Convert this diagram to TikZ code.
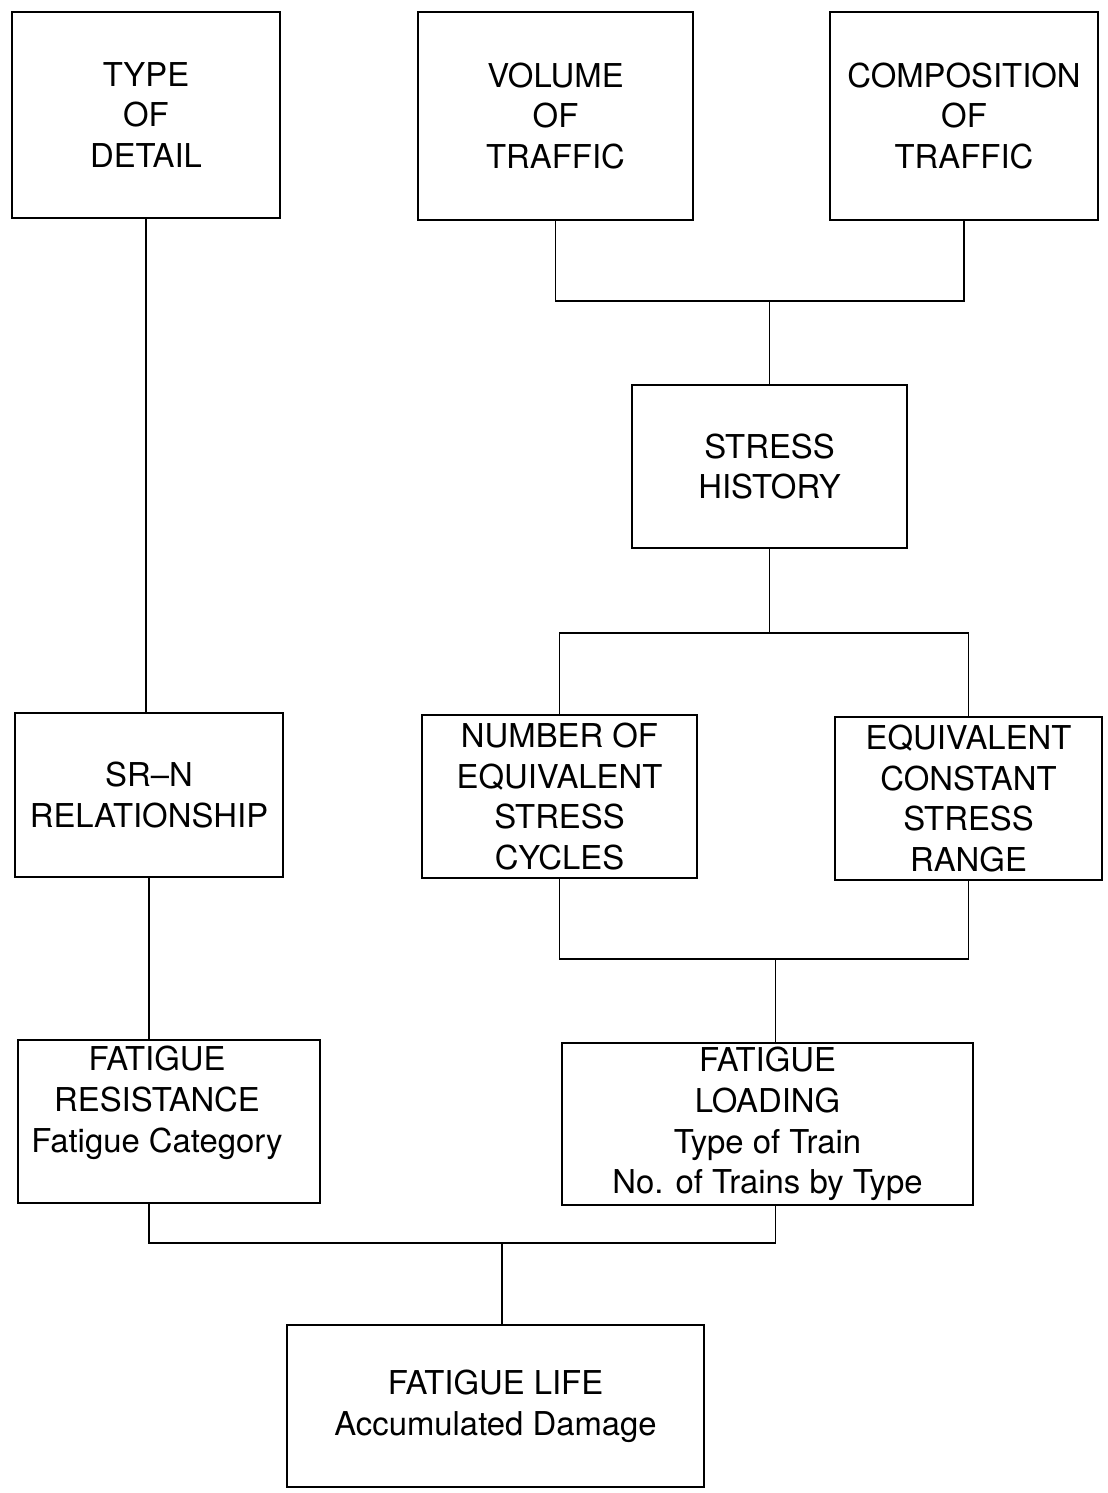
\documentclass[tikz,border=0pt]{standalone}
\usepackage{fontspec}
\setmainfont{TeX Gyre Heros}
\usetikzlibrary{calc}
\begin{document}
\begin{tikzpicture}[x=0.02cm,y=-0.02cm, line width=1.1pt,
  box/.style={draw, align=center, inner sep=0pt, font=\fontsize{18.7}{23.2}\selectfont},
  txt/.style={align=center, inner sep=0pt, font=\fontsize{18.7}{23.2}\selectfont},
  wh/.style 2 args={minimum width=#1*0.02cm, minimum height=#2*0.02cm},
  conn/.style={draw, line width=1.1pt}]
\useasboundingbox[fill=white] (0,0) rectangle (1107,1493);
% boxes
\node[box,wh={268}{206}] (tod) at (146,115) {TYPE\\OF\\DETAIL};
\node[box,wh={275}{208}] (vol) at (555.5,116) {VOLUME\\OF\\TRAFFIC};
\node[box,wh={268}{208}] (comp) at (964,116) {COMPOSITION\\OF\\TRAFFIC};
\node[box,wh={275}{163}] (sh) at (769.5,466.5) {STRESS\\HISTORY};
\node[box,wh={268}{164}] (srn) at (149,795) {SR--N\\RELATIONSHIP};
\node[box,wh={275}{163}] (nesc) at (559.5,796.5) {NUMBER OF\\EQUIVALENT\\STRESS\\CYCLES};
\node[box,wh={267}{163}] (ecsr) at (968.5,798.5) {EQUIVALENT\\CONSTANT\\STRESS\\RANGE};
\node[box,wh={302}{163}] (fr) at (169,1121.5) {};
\node[txt] (frt) at (157,1103) {FATIGUE\\RESISTANCE\\Fatigue Category};
\node[box,wh={411}{162}] (fl) at (767.5,1124) {FATIGUE\\LOADING\\Type of Train\\No. of Trains by Type};
\node[box,wh={417}{162}] (life) at (495.5,1406) {FATIGUE LIFE\\Accumulated Damage};
% junctions
\coordinate (j1) at ($(sh.north)+(0,-83)$);
\coordinate (j2) at ($(sh.south)+(0,84)$);
\coordinate (j3) at ($(fl.north)+(8,-83)$);
\coordinate (j4) at ($(life.north)+(6.5,-81)$);
\coordinate (flb) at ($(fl.south)+(8,0)$);
% connectors
\draw[conn] (vol.south) |- (j1) -| (comp.south);
\draw[conn] (j1) -- (sh.north);
\draw[conn] (sh.south) -- (j2);
\draw[conn] (nesc.north) |- (j2) -| (ecsr.north);
\draw[conn] (nesc.south) |- (j3) -| (ecsr.south);
\draw[conn] (j3) -- (j3 |- fl.north);
\draw[conn] (tod.south) -- (tod.south |- srn.north);
\draw[conn] (srn.south) -- (srn.south |- fr.north);
\draw[conn] (srn.south |- fr.south) |- (j4);
\draw[conn] (flb) |- (j4);
\draw[conn] (j4) -- (j4 |- life.north);
\end{tikzpicture}
\end{document}
